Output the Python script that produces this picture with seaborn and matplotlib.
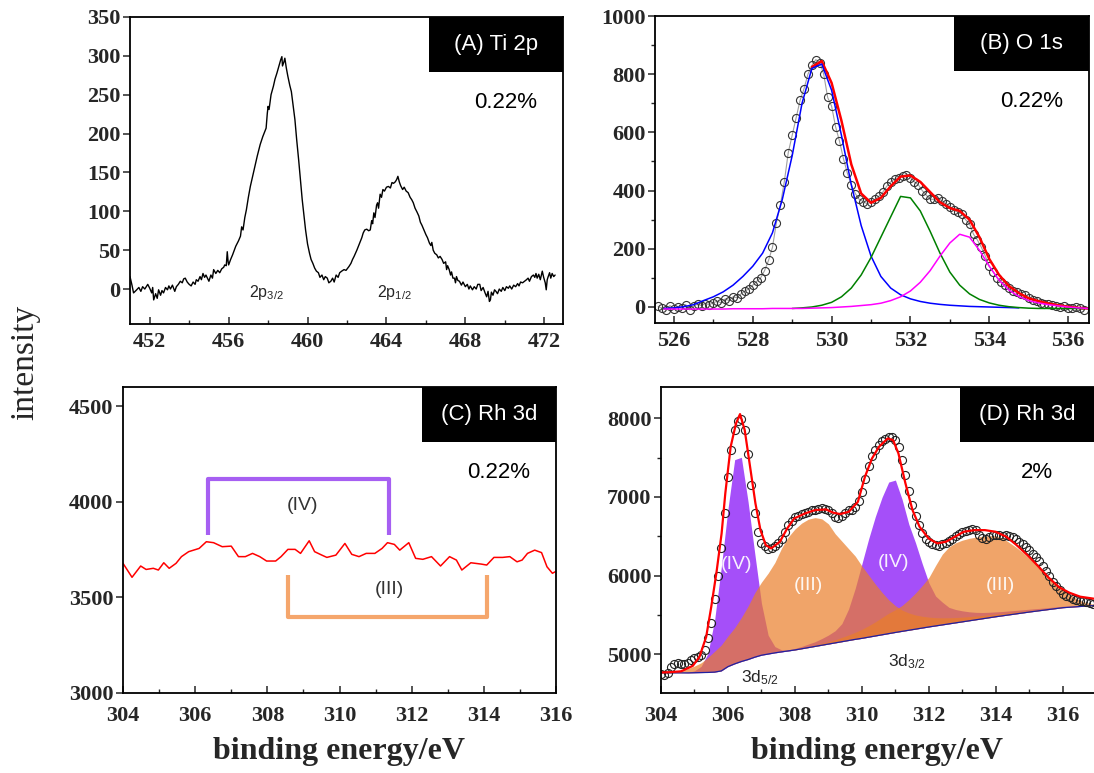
import matplotlib
matplotlib.use("Agg")
import matplotlib.pyplot as plt
from matplotlib.patches import Rectangle
from matplotlib.ticker import MultipleLocator
import numpy as np
import seaborn as sns

# ---------------- (A) Ti 2p ----------------
a_energy = [451.0, 451.1, 451.18, 451.3, 451.45, 451.55, 451.64, 451.75, 451.9, 452.0,
            452.1, 452.15, 452.2, 452.3, 452.38, 452.45, 452.55, 452.62, 452.7, 452.8,
            452.9, 452.97, 453.05, 453.15, 453.27, 453.35, 453.45, 453.55, 453.65, 453.72,
            453.8, 453.9, 454.0, 454.1, 454.2, 454.3, 454.36, 454.45, 454.55, 454.62,
            454.7, 454.78, 454.85, 455.0, 455.1, 455.18, 455.24, 455.35, 455.45, 455.55,
            455.65, 455.75, 455.8, 455.88, 455.93, 455.97, 456.0, 456.1, 456.2, 456.36,
            456.5, 456.6, 456.66, 456.73, 456.82, 456.9, 457.0, 457.1, 457.18, 457.3,
            457.45, 457.6, 457.73, 457.85, 457.9, 457.96, 458.0, 458.05, 458.15, 458.27,
            458.35, 458.45, 458.55, 458.64, 458.7, 458.73, 458.8, 458.85, 458.92, 459.0,
            459.1, 459.18, 459.27, 459.36, 459.45, 459.55, 459.64, 459.73, 459.82, 459.9,
            460.0, 460.1, 460.18, 460.27, 460.36, 460.45, 460.55, 460.63, 460.73, 460.82,
            460.9, 461.0, 461.08, 461.18, 461.27, 461.35, 461.45, 461.55, 461.63, 461.73,
            461.85, 461.95, 462.1, 462.2, 462.28, 462.36, 462.5, 462.64, 462.75, 462.82,
            462.9, 463.0, 463.1, 463.18, 463.25, 463.3, 463.36, 463.42, 463.5, 463.55,
            463.6, 463.68, 463.75, 463.82, 463.9, 464.0, 464.1, 464.2, 464.28, 464.36,
            464.45, 464.52, 464.58, 464.65, 464.72, 464.82, 464.9, 465.0, 465.1, 465.2,
            465.28, 465.36, 465.45, 465.55, 465.64, 465.72, 465.8, 465.9, 466.0, 466.08,
            466.18, 466.25, 466.3, 466.37, 466.45, 466.55, 466.63, 466.72, 466.82, 466.9,
            467.0, 467.05, 467.1, 467.18, 467.25, 467.3, 467.37, 467.45, 467.5, 467.55,
            467.62, 467.7, 467.8, 467.88, 468.0, 468.1, 468.18, 468.25, 468.36, 468.45,
            468.55, 468.63, 468.73, 468.8, 468.9, 469.0, 469.08, 469.15, 469.22, 469.27,
            469.32, 469.4, 469.48, 469.55, 469.63, 469.72, 469.82, 469.9, 470.0, 470.08,
            470.18, 470.25, 470.35, 470.45, 470.55, 470.65, 470.72, 470.8, 470.9, 471.0,
            471.1, 471.18, 471.25, 471.35, 471.45, 471.52, 471.58, 471.64, 471.72, 471.8,
            471.9, 471.97, 472.05, 472.1, 472.15, 472.2, 472.27, 472.33, 472.4, 472.48,
            472.55]
a_counts = [16, 5, -5, -2, 2, -3, 3, 0, 6, 1,
            -5, 2, -14, -6, -12, -1, -8, -2, -5, 2,
            -1, 4, 0, 5, -3, 3, 6, 10, 8, 13,
            14, 9, 6, 4, 9, 6, 12, 10, 16, 12,
            20, 15, 18, 10, 18, 14, 25, 20, 24, 21,
            26, 28, 31, 30, 48, 36, 31, 38, 44, 55,
            62, 68, 80, 76, 92, 102, 118, 132, 141, 155,
            171, 186, 196, 204, 207, 226, 235, 231, 250, 261,
            270, 278, 287, 295, 299, 287, 292, 297, 285, 274,
            262, 254, 236, 218, 192, 166, 140, 115, 95, 76,
            58, 46, 38, 33, 27, 23, 21, 15, 18, 12,
            16, 14, 8, 10, 14, 9, 18, 15, 21, 23,
            25, 24, 29, 33, 38, 42, 50, 59, 66, 72,
            76, 77, 75, 76, 88, 84, 98, 92, 108, 111,
            104, 122, 118, 128, 126, 131, 132, 130, 137, 136,
            138, 141, 145, 138, 133, 128, 131, 126, 124, 118,
            115, 111, 104, 99, 94, 86, 82, 76, 70, 66,
            59, 56, 60, 50, 46, 44, 40, 42, 38, 33,
            35, 25, 30, 25, 18, 22, 14, 14, 8, 16,
            11, 10, 5, 9, 3, 6, 0, 4, -1, 3,
            0, 6, 6, -2, 2, -5, -10, -3, -16, -14,
            -4, -8, -1, -3, -6, 0, -3, 2, -2, 3,
            1, 4, 0, 5, 3, 7, 4, 9, 8, 10,
            12, 14, 10, 16, 18, 15, 20, 14, 19, 12,
            23, 15, 8, -1, 12, 16, 21, 14, 20, 16,
            18]

# ---------------- (B) O 1s ----------------
b_energy = [525.75, 526.0, 526.25, 526.5, 526.75, 527.0, 527.25, 527.5, 527.75, 528.0,
            528.25, 528.5, 528.75, 529.0, 529.25, 529.5, 529.75, 530.0, 530.25, 530.5,
            530.75, 531.0, 531.25, 531.5, 531.75, 532.0, 532.25, 532.5, 532.75, 533.0,
            533.25, 533.5, 533.75, 534.0, 534.25, 534.5, 534.75, 535.0, 535.25, 535.5,
            535.75, 536.0, 536.25, 536.5]
b_peak1 = [-5, -3, 1, 8, 22, 35, 52, 75, 105, 140,
           185, 255, 370, 520, 700, 820, 835, 745, 590, 420,
           280, 175, 105, 65, 42, 28, 19, 13, 9, 6,
           4, 2, 1, 0, -1, -2, -3, None, None, None,
           None, None, None, None]
b_peak2 = [None, None, None, None, None, None, None, None, None, None,
           None, None, None, -5, -3, 0, 6, 16, 35, 65,
           110, 170, 240, 310, 380, 375, 330, 260, 185, 120,
           75, 45, 26, 14, 6, 1, -2, -4, -5, -5,
           -5, -5, -5, -5]
b_peak3 = [-7, -7, -7, -7, -7, -7, -7, -6, -6, -6,
           -6, -5, -5, -5, -5, -4, -3, -2, 0, 2,
           5, 8, 13, 22, 35, 55, 85, 125, 175, 220,
           250, 240, 195, 140, 92, 58, 36, 22, 14, 8,
           4, 0, -3, -5]
b_fit = [None, None, None, None, None, None, None, None, None, None,
         None, None, None, None, None, 825, 845, 770, 640, 490,
         390, 358, 375, 415, 448, 452, 430, 395, 360, 340,
         330, 300, 240, 165, 110, 72, 48, 30, 20, 12,
         6, 1, -3, -5]
b_pts_energy = np.round(np.arange(525.6, 536.45, 0.1), 1)
b_pts_counts = [2, -5, -10, 5, -8, 0, -3, 8, -10, 3,
                10, 5, 12, 8, 15, 20, 14, 28, 22, 35,
                32, 45, 55, 62, 75, 88, 100, 125, 160, 205,
                290, 350, 430, 530, 590, 650, 710, 750, 800, 830,
                850, 840, 800, 720, 690, 620, 570, 510, 460, 420,
                390, 370, 362, 355, 360, 370, 380, 395, 415, 430,
                440, 445, 450, 455, 445, 430, 420, 400, 385, 370,
                370, 375, 365, 355, 345, 335, 325, 320, 300, 285,
                250, 230, 205, 175, 140, 120, 100, 85, 75, 65,
                55, 50, 45, 40, 30, 25, 20, 15, 10, 12,
                8, 5, 0, 3, -2, -5, 0, -5, -10]

# ---------------- (C) Rh 3d, 0.22% ----------------
c_energy = [304.0, 304.25, 304.49, 304.64, 304.84, 304.98, 305.13, 305.28, 305.47, 305.62,
            305.82, 306.11, 306.31, 306.51, 306.75, 307.0, 307.2, 307.39, 307.59, 307.79,
            307.98, 308.23, 308.38, 308.57, 308.77, 308.92, 309.16, 309.31, 309.51, 309.65,
            309.9, 310.15, 310.34, 310.54, 310.74, 310.98, 311.18, 311.33, 311.52, 311.67,
            311.92, 312.11, 312.31, 312.55, 312.8, 313.05, 313.24, 313.39, 313.64, 313.93,
            314.08, 314.28, 314.52, 314.72, 314.92, 315.06, 315.21, 315.41, 315.6, 315.75,
            315.9, 315.98]
c_counts = [3678, 3605, 3664, 3646, 3652, 3643, 3681, 3652, 3678, 3713,
            3739, 3756, 3791, 3786, 3765, 3768, 3713, 3713, 3730, 3713,
            3690, 3690, 3713, 3751, 3751, 3730, 3796, 3739, 3721, 3709,
            3721, 3782, 3725, 3713, 3730, 3730, 3756, 3786, 3777, 3747,
            3786, 3704, 3699, 3713, 3664, 3713, 3695, 3643, 3681, 3674,
            3669, 3709, 3709, 3713, 3686, 3695, 3730, 3747, 3734, 3660,
            3626, 3634]
c_iv_span = [306.35, 311.38]
c_iii_span = [308.58, 314.08]

# ---------------- (D) Rh 3d, 2% ----------------
d_energy = np.round(np.arange(304.0, 317.01, 0.2), 1)
d_background = [4760, 4760, 4760, 4760, 4760, 4762, 4764, 4766, 4770, 4785,
                4840, 4875, 4905, 4930, 4960, 4985, 5000, 5015, 5028, 5040,
                5052, 5067, 5082, 5097, 5112, 5127, 5142, 5157, 5172, 5187,
                5200, 5215, 5230, 5245, 5260, 5275, 5289, 5303, 5317, 5331,
                5345, 5358, 5371, 5384, 5397, 5410, 5423, 5436, 5449, 5462,
                5475, 5487, 5499, 5511, 5523, 5535, 5546, 5557, 5568, 5579,
                5590, 5596, 5602, 5608, 5614, 5620]
d_iv_52 = [0, 0, 0, 0, 5, 25, 80, 240, 660, 1320,
           2010, 2600, 2600, 2010, 1320, 660, 240, 80, 25, 8,
           0, 0, 0, 0, 0, 0, 0, 0, 0, 0,
           0, 0, 0, 0, 0, 0, 0, 0, 0, 0,
           0, 0, 0, 0, 0, 0, 0, 0, 0, 0,
           0, 0, 0, 0, 0, 0, 0, 0, 0, 0,
           0, 0, 0, 0, 0, 0]
d_iv_32 = [0, 0, 0, 0, 0, 0, 0, 0, 0, 0,
           0, 0, 0, 0, 0, 0, 0, 0, 10, 15,
           20, 30, 45, 60, 85, 115, 155, 230, 400, 650,
           950, 1250, 1520, 1750, 1930, 1940, 1680, 1350, 1100, 820,
           560, 380, 290, 210, 170, 140, 115, 95, 80, 70,
           62, 55, 50, 45, 40, 36, 32, 28, 25, 22,
           19, 16, 13, 10, 7, 5]
d_iii_52 = [10, 15, 25, 35, 55, 85, 125, 190, 265, 330,
            390, 460, 560, 680, 820, 930, 1030, 1150, 1320, 1450,
            1540, 1600, 1635, 1640, 1610, 1530, 1390, 1280, 1170, 1060,
            920, 790, 660, 540, 430, 340, 270, 220, 180, 150,
            125, 105, 90, 78, 68, 60, 53, 47, 42, 38,
            34, 30, 27, 24, 21, 19, 17, 15, 13, 11,
            9, 7, 5, 4, 2, 0]
d_iii_32 = [0, 0, 0, 0, 0, 0, 0, 0, 0, 0,
            0, 0, 0, 0, 0, 0, 0, 0, 0, 0,
            10, 13, 16, 20, 25, 30, 40, 55, 70, 90,
            115, 145, 180, 220, 260, 290, 330, 390, 460, 540,
            630, 770, 900, 980, 1020, 1040, 1050, 1052, 1050, 1045,
            1030, 990, 920, 850, 770, 680, 590, 500, 410, 320,
            240, 165, 105, 60, 30, 10]
d_fit_energy = [304.0, 304.3, 304.6, 304.95, 305.15, 305.35, 305.5, 305.66, 305.81, 305.92,
                306.08, 306.24, 306.36, 306.5, 306.66, 306.82, 306.97, 307.13, 307.29, 307.55,
                307.77, 307.98, 308.3, 308.6, 308.93, 309.14, 309.35, 309.61, 309.88, 310.09,
                310.3, 310.51, 310.77, 310.93, 311.09, 311.3, 311.51, 311.72, 311.99, 312.25,
                312.51, 312.78, 313.04, 313.36, 313.67, 313.99, 314.31, 314.62, 314.94, 315.26,
                315.57, 315.89, 316.2, 316.52, 316.92]
d_fit = [4765, 4770, 4780, 4850, 4965, 5220, 5600, 6050, 6536, 7045,
         7639, 7936, 8055, 7851, 7385, 6918, 6578, 6387, 6345, 6430,
         6600, 6727, 6790, 6833, 6841, 6800, 6782, 6812, 6939, 7257,
         7490, 7639, 7745, 7724, 7554, 7172, 6833, 6621, 6472, 6409,
         6430, 6494, 6557, 6578, 6578, 6557, 6494, 6387, 6260, 6120,
         5975, 5850, 5780, 5730, 5705]
d_pts_energy = np.round(np.arange(304.0, 316.95, 0.1), 1)
d_pts_counts = [4740, 4735, 4760, 4840, 4870, 4880, 4875, 4870, 4880, 4920,
                4950, 4960, 4990, 5050, 5200, 5400, 5700, 6000, 6350, 6800,
                7250, 7600, 7850, 7970, 7990, 7850, 7550, 7150, 6800, 6550,
                6420, 6370, 6340, 6350, 6380, 6420, 6470, 6560, 6640, 6700,
                6740, 6760, 6780, 6800, 6810, 6830, 6840, 6850, 6860, 6850,
                6830, 6790, 6750, 6730, 6760, 6800, 6830, 6840, 6870, 6950,
                7060, 7230, 7400, 7520, 7600, 7660, 7710, 7740, 7760, 7760,
                7730, 7630, 7470, 7280, 7080, 6900, 6760, 6640, 6540, 6470,
                6430, 6400, 6390, 6380, 6400, 6420, 6440, 6470, 6500, 6530,
                6560, 6570, 6580, 6590, 6580, 6520, 6480, 6470, 6490, 6510,
                6520, 6510, 6500, 6510, 6500, 6490, 6460, 6430, 6400, 6360,
                6330, 6280, 6230, 6180, 6120, 6060, 5990, 5920, 5860, 5810,
                5770, 5740, 5720, 5700, 5690, 5680, 5670, 5660, 5650, 5640]

PURPLE = "#9b3cf9"
ORANGE = "#ea7e29"

sns.set_style("ticks")
plt.rcParams["font.family"] = ["Liberation Serif", "DejaVu Serif"]
plt.rcParams["mathtext.fontset"] = "custom"
plt.rcParams["mathtext.rm"] = "Liberation Sans"
plt.rcParams["mathtext.default"] = "regular"
SANS = ["Liberation Sans", "DejaVu Sans"]

fig = plt.figure(figsize=(10.94, 7.73), dpi=100)
W, H = 1094.0, 773.0


def add_axes(left, right, top, bottom):
    return fig.add_axes([left / W, 1 - bottom / H, (right - left) / W, (bottom - top) / H])


def style(ax, xlim, ylim, xmaj, xmin, ymaj, ymin, xpad):
    ax.set_xlim(*xlim)
    ax.set_ylim(*ylim)
    ax.xaxis.set_major_locator(MultipleLocator(xmaj))
    ax.xaxis.set_minor_locator(MultipleLocator(xmin))
    ax.yaxis.set_major_locator(MultipleLocator(ymaj))
    if ymin:
        ax.yaxis.set_minor_locator(MultipleLocator(ymin))
    ax.tick_params(axis="x", which="both", direction="in", top=False, pad=xpad)
    ax.tick_params(axis="y", which="both", direction="out", right=False, pad=2)
    ax.tick_params(which="major", length=4.8, width=1.1, labelsize=16)
    ax.tick_params(which="minor", length=2.6, width=1.0)
    for sp in ax.spines.values():
        sp.set_linewidth(1.3)
        sp.set_color("black")
    for lab in ax.get_xticklabels() + ax.get_yticklabels():
        lab.set_fontweight("bold")
    ax.set_xlabel("")
    ax.set_ylabel("")


def tag(ax, title, pct):
    ax.add_patch(Rectangle((0.69, 0.82), 0.31, 0.18, transform=ax.transAxes,
                           facecolor="black", edgecolor="none", zorder=5, clip_on=False))
    ax.text(0.845, 0.91, title, transform=ax.transAxes, color="white", ha="center",
            va="center", fontsize=16, family=SANS, zorder=6)
    ax.text(0.868, 0.722, pct, transform=ax.transAxes, color="black", ha="center",
            va="center", fontsize=16, family=SANS, zorder=6)


# ---- panel A
axA = add_axes(130, 563, 17, 324)
sns.lineplot(x=a_energy, y=a_counts, ax=axA, color="black", lw=1.0,
             estimator=None, sort=False)
style(axA, (451.0, 472.95), (-45, 350), 4, 2, 50, None, 6)
axA.text(457.92, -5, "2p$_{3/2}$", ha="center", va="center", fontsize=11.5, family=SANS)
axA.text(464.4, -5, "2p$_{1/2}$", ha="center", va="center", fontsize=11.5, family=SANS)
tag(axA, "(A) Ti 2p", "0.22%")

# ---- panel B
axB = add_axes(655, 1089, 16, 323)
sns.lineplot(x=b_pts_energy, y=b_pts_counts, ax=axB, color="#a0a0a0", lw=0.8,
             marker="o", ms=5.8, mfc="none", mec="#333333", mew=0.8,
             estimator=None, sort=False)
b_e = np.array(b_energy)
for series, col, lw in [(b_fit, "#ff0000", 1.8), (b_peak1, "#0000ff", 1.1),
                        (b_peak2, "#008000", 1.1), (b_peak3, "#ff00ff", 1.1)]:
    sns.lineplot(x=b_e, y=np.array(series, dtype=float), ax=axB, color=col, lw=lw,
                 estimator=None, sort=False)
style(axB, (525.52, 536.53), (-55, 1000), 2, 1, 200, 100, 6)
tag(axB, "(B) O 1s", "0.22%")

# ---- panel C
axC = add_axes(123, 556, 387, 693)
sns.lineplot(x=c_energy, y=c_counts, ax=axC, color="#ff0000", lw=1.1,
             estimator=None, sort=False)
iv_col, iii_col = "#a65ff2", "#f5a66c"
axC.plot([c_iv_span[0], c_iv_span[0], c_iv_span[1], c_iv_span[1]],
         [3826, 4121, 4121, 3826], color=iv_col, lw=3, solid_capstyle="butt")
axC.plot([c_iii_span[0], c_iii_span[0], c_iii_span[1], c_iii_span[1]],
         [3617, 3400, 3400, 3617], color=iii_col, lw=3, solid_capstyle="butt")
axC.text(308.97, 3982, "(IV)", ha="center", va="center", fontsize=14, family=SANS, color="#333333")
axC.text(311.37, 3542, "(III)", ha="center", va="center", fontsize=14, family=SANS, color="#333333")
style(axC, (304, 316), (3000, 4600), 2, 1, 500, None, 9.5)
tag(axC, "(C) Rh 3d", "0.22%")

# ---- panel D
axD = add_axes(661, 1094, 387, 693)
base = np.array(d_background, dtype=float)
for comp, col, a in [(d_iv_52, PURPLE, 0.9), (d_iv_32, PURPLE, 0.9),
                     (d_iii_52, ORANGE, 0.7), (d_iii_32, ORANGE, 0.7)]:
    axD.fill_between(d_energy, base, base + np.array(comp), color=col, alpha=a, lw=0)
sns.lineplot(x=d_energy, y=base, ax=axD, color="#2020a0", lw=0.9, estimator=None, sort=False)
sns.lineplot(x=d_pts_energy, y=d_pts_counts, ax=axD, color="none", lw=0,
             marker="o", ms=5.8, mfc="none", mec="#222222", mew=0.8,
             estimator=None, sort=False)
sns.lineplot(x=d_fit_energy, y=d_fit, ax=axD, color="#ff0000", lw=1.6,
             estimator=None, sort=False)
for xx, yy, s in [(306.26, 6134, "(IV)"), (310.93, 6160, "(IV)"),
                  (308.39, 5879, "(III)"), (314.12, 5879, "(III)")]:
    axD.text(xx, yy, s, ha="center", va="center", fontsize=14, family=SANS,
             color="white", alpha=0.92)
axD.text(306.96, 4694, "3d$_{5/2}$", ha="center", va="center", fontsize=12.5, family=SANS)
axD.text(311.33, 4902, "3d$_{3/2}$", ha="center", va="center", fontsize=12.5, family=SANS)
style(axD, (304, 316.93), (4504, 8400), 2, 1, 1000, 500, 9.5)
axD.spines["right"].set_visible(False)
tag(axD, "(D) Rh 3d", "2%")

# shared labels
fig.text(25 / W, 1 - 362 / H, "intensity", rotation=90, ha="center", va="center", fontsize=24)
fig.text(339 / W, 1 - 752 / H, "binding energy/eV", ha="center", va="center",
         fontsize=23, fontweight="bold")
fig.text(877 / W, 1 - 752 / H, "binding energy/eV", ha="center", va="center",
         fontsize=23, fontweight="bold")

fig.savefig("out.png", dpi=100)
